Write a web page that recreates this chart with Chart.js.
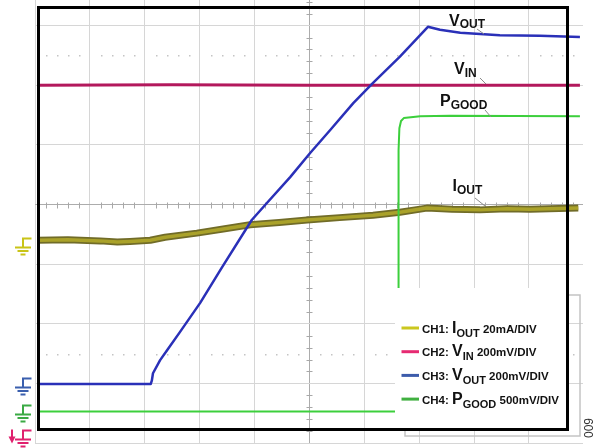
<!DOCTYPE html>
<html>
<head>
<meta charset="utf-8">
<script src="https://cdn.jsdelivr.net/npm/chart.js@4.4.1/dist/chart.umd.min.js"></script>
<style>
  html, body { margin: 0; padding: 0; background: #fff; }
  canvas { display: block; }
</style>
</head>
<body>
<canvas id="scope" width="597" height="448"></canvas>
<script>
// scope screen, values in divisions (x: time div, y: vertical div, 0 = centre line)
const xTicks = [0, 1, 2, 3, 4, 5, 6, 7, 8, 9];
const yTicks = [-4, -3, -2, -1, 0, 1, 2, 3];

const voutX = [0.04, 2.11, 2.13, 2.15, 2.28, 2.41, 2.64, 3.01, 3.41, 3.95, 4.23, 4.65, 5.01, 5.38, 5.80, 6.16, 6.65, 7.16, 7.38, 7.75, 8.47, 9.20, 9.93];
const voutY = [-3.01, -3.01, -2.95, -2.83, -2.61, -2.44, -2.14, -1.65, -1.05, -0.26, 0.03, 0.46, 0.86, 1.25, 1.70, 2.04, 2.48, 2.98, 2.93, 2.88, 2.84, 2.83, 2.81];

const vinX = [0.04, 2.5, 5.0, 7.5, 9.93];
const vinY = [2.0, 2.01, 2.0, 2.0, 2.0];

const pgoodX = [0.04, 6.62, 6.62, 6.63, 6.64, 6.67, 6.72, 7.02, 7.56, 9.93];
const pgoodY = [-3.47, -3.47, -1.60, 0.91, 1.28, 1.40, 1.45, 1.48, 1.49, 1.48];

const ioutX = [0.04, 0.6, 1.19, 1.5, 1.73, 2.10, 2.37, 2.95, 3.43, 3.92, 4.45, 4.96, 5.55, 6.16, 6.65, 7.14, 7.6, 8.11, 8.6, 9.02, 9.90];
const ioutY = [-0.60, -0.59, -0.61, -0.63, -0.62, -0.60, -0.55, -0.48, -0.41, -0.34, -0.30, -0.26, -0.22, -0.18, -0.13, -0.06, -0.08, -0.09, -0.07, -0.08, -0.06];

// channel ground reference markers (CH2 is off screen, shown with an arrow)
const groundLevels = [-0.56, -3.78, -2.91, -3.36];
const groundColors = ['#c9c418', '#e0206e', '#3a5fae', '#3aaa44'];

const legendChannels = ['CH1: ', 'CH2: ', 'CH3: ', 'CH4: '];
const legendMain = ['I', 'V', 'V', 'P'];
const legendSub = ['OUT', 'IN', 'OUT', 'GOOD'];
const legendScale = [' 20mA/DIV', ' 200mV/DIV', ' 200mV/DIV', ' 500mV/DIV'];
const legendColors = ['#cbc71e', '#e62a72', '#3d5cab', '#40b040'];

const toPoints = (xs, ys) => xs.map((x, i) => ({ x, y: ys[i] }));
const FONT = '"Liberation Sans", Arial, sans-serif';

function drawRich(ctx, x, y, parts) {
    let cx = x;
    parts.forEach(([t, size, dy]) => {
        ctx.font = `bold ${size}px ${FONT}`;
        ctx.fillText(t, cx, y + dy);
        cx += ctx.measureText(t).width;
    });
}

function drawGround(ctx, y0, color, arrow) {
    ctx.strokeStyle = color;
    ctx.fillStyle = color;
    ctx.lineWidth = 2;
    ctx.beginPath();
    ctx.moveTo(31.5, y0); ctx.lineTo(23, y0); ctx.lineTo(23, y0 + 9);
    ctx.moveTo(15, y0 + 9); ctx.lineTo(31, y0 + 9);
    ctx.moveTo(17.5, y0 + 12.5); ctx.lineTo(28.5, y0 + 12.5);
    ctx.moveTo(20.5, y0 + 16); ctx.lineTo(25.5, y0 + 16);
    ctx.stroke();
    if (arrow) {
        ctx.beginPath();
        ctx.moveTo(12, y0 - 1); ctx.lineTo(12, y0 + 8);
        ctx.stroke();
        ctx.beginPath();
        ctx.moveTo(8.5, y0 + 6); ctx.lineTo(15.5, y0 + 6); ctx.lineTo(12, y0 + 13);
        ctx.closePath();
        ctx.fill();
    }
}

const scopeDecor = {
    id: 'scopeDecor',
    beforeDatasetsDraw(chart) {
        const { ctx, scales: { x, y } } = chart;
        ctx.save();
        // minor ticks on the centre lines
        ctx.strokeStyle = '#a8a8a8';
        ctx.lineWidth = 1;
        ctx.beginPath();
        const cy = Math.round(y.getPixelForValue(0)) + 0.5;
        for (let k = 1; k < 50; k++) {
            if (k % 5 === 0) continue;
            const px = Math.round(x.getPixelForValue(k * 0.2)) + 0.5;
            ctx.moveTo(px, cy - 3); ctx.lineTo(px, cy + 3);
        }
        const cx = Math.round(x.getPixelForValue(5)) + 0.5;
        for (let k = -20; k < 18; k++) {
            if (k % 5 === 0) continue;
            const py = Math.round(y.getPixelForValue(k * 0.2)) + 0.5;
            ctx.moveTo(cx - 3, py); ctx.lineTo(cx + 3, py);
        }
        ctx.stroke();
        // dotted rows
        ctx.fillStyle = '#c4c4c4';
        [2.5, -2.5].forEach(v => {
            const py = Math.round(y.getPixelForValue(v));
            for (let k = 1; k < 50; k++) {
                if (k % 5 === 0) continue;
                const px = Math.round(x.getPixelForValue(k * 0.2));
                ctx.fillRect(px, py, 1.5, 1.5);
            }
        });
        ctx.restore();
    },
    afterDatasetsDraw(chart) {
        const { ctx, scales: { y } } = chart;
        ctx.save();
        // legend shadow outline, then box
        ctx.strokeStyle = '#c4c4c4';
        ctx.lineWidth = 1.5;
        ctx.strokeRect(405, 295, 175, 141);
        ctx.fillStyle = '#fff';
        ctx.fillRect(395, 288, 173, 141);

        // screen frame
        ctx.strokeStyle = '#000';
        ctx.lineWidth = 3;
        ctx.strokeRect(38.5, 7.5, 529, 422);

        // legend rows
        legendChannels.forEach((ch, i) => {
            const ly = 328 + i * 23.7;
            ctx.strokeStyle = legendColors[i];
            ctx.lineWidth = 3;
            ctx.beginPath();
            ctx.moveTo(401.5, ly); ctx.lineTo(419, ly);
            ctx.stroke();
            ctx.fillStyle = '#111';
            drawRich(ctx, 422, ly + 4.5, [[ch, 11.5, 0], [legendMain[i], 16, 0], [legendSub[i], 11, 4], [legendScale[i], 11.5, 0]]);
        });

        // trace labels with leader lines
        ctx.fillStyle = '#111';
        drawRich(ctx, 449, 26, [['V', 16, 0], ['OUT', 12, 2]]);
        drawRich(ctx, 454, 74, [['V', 16, 0], ['IN', 12, 3]]);
        drawRich(ctx, 440, 106, [['P', 16, 0], ['GOOD', 12, 2.5]]);
        drawRich(ctx, 452.5, 191, [['I', 16, 0], ['OUT', 12, 3]]);
        ctx.strokeStyle = '#8a8a8a';
        ctx.lineWidth = 1;
        ctx.beginPath();
        ctx.moveTo(477, 29); ctx.lineTo(484, 34);
        ctx.moveTo(480, 78); ctx.lineTo(486, 84);
        ctx.moveTo(485, 110); ctx.lineTo(491, 117);
        ctx.moveTo(475, 198); ctx.lineTo(485, 206);
        ctx.stroke();

        // ground markers
        groundLevels.forEach((v, i) => {
            drawGround(ctx, Math.round(y.getPixelForValue(v)) + 0.5, groundColors[i], i === 1);
        });

        // figure number
        ctx.translate(593, 438);
        ctx.rotate(-Math.PI / 2);
        ctx.fillStyle = '#333';
        ctx.font = `12px ${FONT}`;
        ctx.fillText('009', 0, 0);
        ctx.restore();
    }
};

new Chart('scope', {
    type: 'line',
    data: {
        datasets: [
            { data: toPoints(voutX, voutY), borderColor: '#2a30b8', borderWidth: 2.5, order: 1 },
            { data: toPoints(pgoodX, pgoodY), borderColor: '#3ccf3c', borderWidth: 2, order: 2 },
            { data: toPoints(vinX, vinY), borderColor: '#b3185c', borderWidth: 3, order: 3 },
            { data: toPoints(ioutX, ioutY), borderColor: '#aaa22a', borderWidth: 3.5, order: 4 },
            { data: toPoints(ioutX, ioutY), borderColor: '#716c28', borderWidth: 7, order: 5 }
        ]
    },
    options: {
        responsive: false,
        devicePixelRatio: 1,
        animation: false,
        layout: { padding: { left: 35, right: 14, top: 0, bottom: 5 } },
        elements: { point: { radius: 0 }, line: { tension: 0, borderJoinStyle: 'round', borderCapStyle: 'butt' } },
        plugins: { legend: { display: false }, tooltip: { enabled: false } },
        scales: {
            x: {
                type: 'linear', min: 0, max: 9.986,
                afterBuildTicks: s => { s.ticks = xTicks.map(v => ({ value: v })); },
                ticks: { display: false },
                border: { display: false },
                grid: { drawTicks: false, color: c => c.tick.value === 5 ? '#acacac' : '#d6d6d6' }
            },
            y: {
                type: 'linear', min: -4, max: 3.43,
                afterBuildTicks: s => { s.ticks = yTicks.map(v => ({ value: v })); },
                ticks: { display: false },
                border: { display: false },
                grid: { drawTicks: false, color: c => c.tick.value === 0 ? '#acacac' : '#d6d6d6' }
            }
        }
    },
    plugins: [scopeDecor]
});
</script>
</body>
</html>
